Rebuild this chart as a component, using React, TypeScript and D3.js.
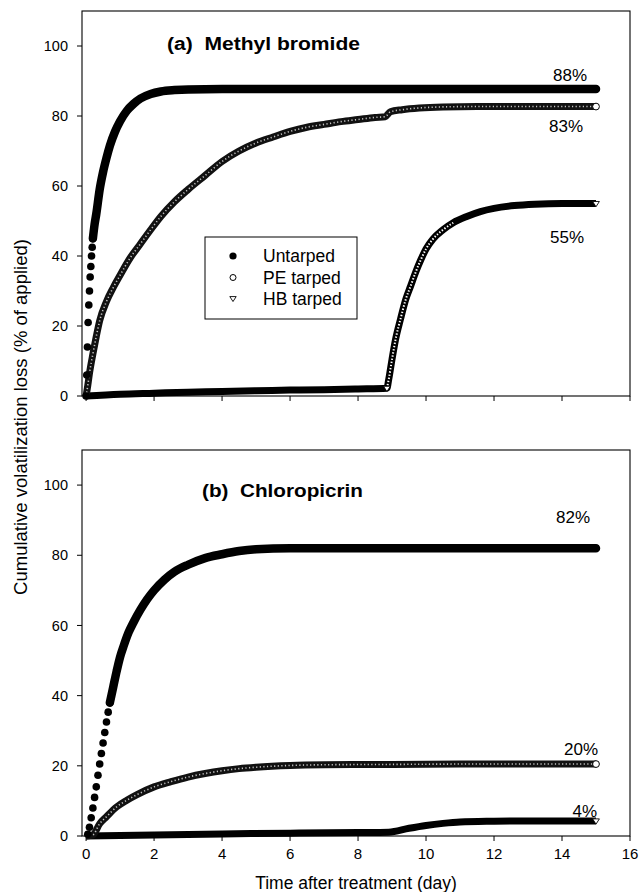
import * as d3 from "d3";

// ---- data (day, cumulative % of applied) ----
const mbUntarped: [number, number][] = [
  [0, 0], [0.02, 6], [0.04, 14], [0.06, 21], [0.08, 26], [0.1, 30], [0.12, 34],
  [0.14, 37], [0.16, 40], [0.18, 42.5], [0.2, 45], [0.25, 49], [0.3, 52],
  [0.4, 59], [0.5, 64], [0.6, 68], [0.7, 71.5], [0.85, 75.5], [1.0, 78.5],
  [1.2, 81.5], [1.4, 83.5], [1.6, 85], [1.9, 86.3], [2.2, 87], [2.6, 87.4],
  [3, 87.6], [4, 87.7], [6, 87.7], [8, 87.7], [10, 87.7], [12, 87.7],
  [14, 87.7], [15, 87.7],
];
const mbPE: [number, number][] = [
  [0, 0], [0.05, 3], [0.1, 6.5], [0.2, 12], [0.3, 17], [0.4, 21.5], [0.6, 27],
  [0.8, 31], [1.0, 34.5], [1.3, 39.5], [1.6, 43.5], [1.9, 47.5], [2.2, 51.3],
  [2.6, 55.5], [3.0, 59], [3.5, 63], [4.0, 67], [4.5, 70], [5.0, 72.3],
  [5.5, 74], [6.0, 75.6], [6.5, 76.8], [7.0, 77.6], [7.5, 78.4], [8.0, 79],
  [8.5, 79.6], [8.8, 79.8], [8.95, 81.2], [9.3, 81.8], [9.8, 82.3],
  [10.5, 82.6], [11.5, 82.7], [13, 82.7], [15, 82.7],
];
const mbHB: [number, number][] = [
  [0, 0], [1, 0.5], [2, 0.8], [3, 1.1], [4, 1.3], [5, 1.5], [6, 1.7], [7, 1.8],
  [8, 2], [8.85, 2.2], [8.9, 4.6], [9.0, 10.5], [9.1, 16], [9.25, 22],
  [9.4, 27.5], [9.55, 31.5], [9.7, 35.5], [9.85, 39], [10.0, 42], [10.2, 44.8],
  [10.5, 47.5], [10.8, 49.5], [11.2, 51.3], [11.6, 52.7], [12.0, 53.6],
  [12.6, 54.4], [13.2, 54.8], [14, 55], [15, 55],
];

const cpUntarped: [number, number][] = [
  [0.05, 0.5], [0.1, 2.5], [0.15, 5.2], [0.2, 8], [0.25, 11], [0.3, 14],
  [0.35, 17.3], [0.4, 20.5], [0.45, 23.5], [0.5, 26.5], [0.55, 29.5],
  [0.6, 32.5], [0.65, 35.3], [0.7, 38], [0.8, 42.5], [0.9, 47], [1.0, 51],
  [1.1, 54], [1.25, 58], [1.4, 61], [1.6, 64.5], [1.8, 67.5], [2.0, 70],
  [2.3, 73], [2.6, 75.3], [3.0, 77.3], [3.5, 79.2], [4.0, 80.3], [4.5, 81.2],
  [5.0, 81.7], [6, 82], [8, 82], [10, 82], [12, 82], [14, 82], [15, 82],
];
const cpPE: [number, number][] = [
  [0, 0], [0.2, 0.3], [0.4, 3.5], [0.6, 5.5], [0.9, 8.3], [1.2, 10.2],
  [1.5, 11.8], [2.0, 14], [2.5, 15.5], [3.0, 16.8], [3.5, 17.8], [4.0, 18.6],
  [4.5, 19.2], [5.0, 19.6], [6, 20.1], [7, 20.3], [9, 20.4], [11, 20.5],
  [13, 20.5], [15, 20.5],
];
const cpHB: [number, number][] = [
  [0, 0], [2, 0.3], [4, 0.6], [6, 0.8], [8, 1], [8.9, 1.1], [9.5, 2.2],
  [10, 3], [10.5, 3.6], [11, 4], [12, 4.2], [13, 4.3], [15, 4.3],
];

const xTicks = [0, 2, 4, 6, 8, 10, 12, 14, 16];
const yTicks = [0, 20, 40, 60, 80, 100];
const legendNames = ["Untarped", "PE tarped", "HB tarped"];
const mbLabels = ["88%", "83%", "55%"];
const cpLabels = ["82%", "20%", "4%"];

// ---- layout ----
const W = 639;
const H = 892;
const FONT = "Arial, 'Liberation Sans', Helvetica, sans-serif";
const x = d3.scaleLinear().domain([-0.12, 16]).range([82, 630]);

type Panel = {
  key: string;
  title: string;
  top: number;
  bottom: number;
  titleX: number;
  titleY: number;
  titleW: number;
  untarped: [number, number][];
  pe: [number, number][];
  hb: [number, number][];
  labels: string[];
  labelOffsets: [number, number][];
  dotsUntil: number; // untarped drawn as separate dots before this day
  hbHatch: [number, number] | null;
  showLegend: boolean;
  showXLabels: boolean;
};

const panels: Panel[] = [
  {
    key: "a", title: "(a)  Methyl bromide", top: 11, bottom: 396,
    titleX: 167, titleY: 50, titleW: 193,
    untarped: mbUntarped, pe: mbPE, hb: mbHB, labels: mbLabels,
    labelOffsets: [[-9, -8.5], [-13, 25], [-12, 39.5]],
    dotsUntil: 0.2, hbHatch: [8.85, 10.8], showLegend: true, showXLabels: false,
  },
  {
    key: "b", title: "(b)  Chloropicrin", top: 450, bottom: 836,
    titleX: 202, titleY: 497, titleW: 161,
    untarped: cpUntarped, pe: cpPE, hb: cpHB, labels: cpLabels,
    labelOffsets: [[-6, -25], [2, -9], [1, -4]],
    dotsUntil: 0.7, hbHatch: null, showLegend: false, showXLabels: true,
  },
];

const triangle = (cx: number, cy: number, s: number) =>
  `M${cx - s},${cy - s * 0.6}L${cx + s},${cy - s * 0.6}L${cx},${cy + s * 0.95}Z`;

function ChartPanel({ p }: { p: Panel }) {
  const y = d3.scaleLinear().domain([0, 110]).range([p.bottom, p.top]);
  const line = d3
    .line<[number, number]>()
    .x((d) => x(d[0]))
    .y((d) => y(d[1]))
    .curve(d3.curveMonotoneX);

  const unBand = p.untarped.filter((d) => d[0] >= p.dotsUntil);
  const unDots = p.untarped.filter((d) => d[0] <= p.dotsUntil);
  const peEnd = p.pe[p.pe.length - 1];
  const hbEnd = p.hb[p.hb.length - 1];
  const unEnd = p.untarped[p.untarped.length - 1];
  const ends = [unEnd, peEnd, hbEnd];
  const hatch = p.hbHatch
    ? p.hb.filter((d) => d[0] >= p.hbHatch![0] && d[0] <= p.hbHatch![1])
    : [];
  const hbStart = p.hbHatch ? p.hb.find((d) => d[0] >= p.hbHatch![0]) : null;

  return (
    <g>
      {/* frame */}
      <rect
        x={x.range()[0]} y={p.top}
        width={x.range()[1] - x.range()[0]} height={p.bottom - p.top}
        fill="none" stroke="#000" strokeWidth={1.1}
      />
      {/* y ticks */}
      {yTicks.map((t) => (
        <g key={"y" + t}>
          <line x1={x.range()[0] - 5} x2={x.range()[0]} y1={y(t)} y2={y(t)} stroke="#000" />
          <text
            x={x.range()[0] - 14} y={y(t)} dy="0.36em" textAnchor="end"
            fontSize={14.5} fontFamily={FONT}
          >
            {t}
          </text>
        </g>
      ))}
      {/* x ticks */}
      {xTicks.map((t) => (
        <g key={"x" + t}>
          <line x1={x(t)} x2={x(t)} y1={p.bottom} y2={p.bottom + 5} stroke="#000" />
          {p.showXLabels && (
            <text x={x(t)} y={p.bottom + 23} textAnchor="middle" fontSize={15} fontFamily={FONT}>
              {t}
            </text>
          )}
        </g>
      ))}

      {/* HB tarped */}
      <path d={line(p.hb) || ""} fill="none" stroke="#000" strokeWidth={7} strokeLinejoin="round" />
      {hatch.length > 1 && (
        <path d={line(hatch) || ""} fill="none" stroke="#fff" strokeWidth={2}
          strokeDasharray="1.4 1.8" />
      )}
      {/* PE tarped */}
      <path d={line(p.pe) || ""} fill="none" stroke="#111" strokeWidth={7} strokeLinejoin="round" />
      <path d={line(p.pe) || ""} fill="none" stroke="#fff" strokeWidth={1.6}
        strokeDasharray="1.2 2.4" opacity={0.75} />
      {/* Untarped */}
      <path d={line(unBand) || ""} fill="none" stroke="#000" strokeWidth={8.5} strokeLinecap="round" />
      {unDots.map((d, i) => (
        <circle key={"u" + i} cx={x(d[0])} cy={y(d[1])} r={3.8} fill="#000" />
      ))}

      {/* end markers */}
      <circle cx={x(peEnd[0])} cy={y(peEnd[1])} r={3.4} fill="#fff" stroke="#000" strokeWidth={1} />
      <path d={triangle(x(hbEnd[0]), y(hbEnd[1]), 3.4)} fill="#fff" stroke="#000" strokeWidth={0.9} />
      {hbStart && (
        <path d={triangle(x(hbStart[0]), y(hbStart[1]), 3.4)} fill="#fff" stroke="#000" strokeWidth={0.9} />
      )}

      {/* percentage labels */}
      {p.labels.map((l, i) => (
        <text
          key={l}
          x={x(ends[i][0]) + p.labelOffsets[i][0]}
          y={y(ends[i][1]) + p.labelOffsets[i][1]}
          textAnchor="end" fontSize={17} fontFamily={FONT}
        >
          {l}
        </text>
      ))}

      {/* panel title */}
      <text
        x={p.titleX} y={p.titleY} fontSize={18} fontWeight="bold" fontFamily={FONT}
        textLength={p.titleW} lengthAdjust="spacingAndGlyphs"
        style={{ whiteSpace: "pre" }}
      >
        {p.title}
      </text>

      {p.showLegend && (
        <g>
          <rect x={205} y={237} width={152} height={82} fill="#fff" stroke="#000" strokeWidth={1} />
          {legendNames.map((n, i) => {
            const cy = 256 + i * 21.5;
            return (
              <g key={n}>
                {i === 0 && <circle cx={233} cy={cy} r={3.6} fill="#000" />}
                {i === 1 && <circle cx={233} cy={cy} r={3} fill="#fff" stroke="#000" strokeWidth={1} />}
                {i === 2 && <path d={triangle(233, cy - 0.5, 3.2)} fill="#fff" stroke="#000" strokeWidth={0.9} />}
                <text x={263} y={cy} dy="0.36em" fontSize={17.5} fontFamily={FONT}>
                  {n}
                </text>
              </g>
            );
          })}
        </g>
      )}
    </g>
  );
}

export default function App() {
  return (
    <svg
      width={W}
      height={H}
      style={{ position: "absolute", left: 0, top: 0, background: "#fff" }}
    >
      {panels.map((p) => (
        <ChartPanel key={p.key} p={p} />
      ))}
      <text
        transform="translate(27,417) rotate(-90)"
        textAnchor="middle" fontSize={18.5} fontFamily={FONT}
      >
        Cumulative volatilization loss (% of applied)
      </text>
      <text x={356} y={889} textAnchor="middle" fontSize={17.5} fontFamily={FONT}>
        Time after treatment (day)
      </text>
    </svg>
  );
}
